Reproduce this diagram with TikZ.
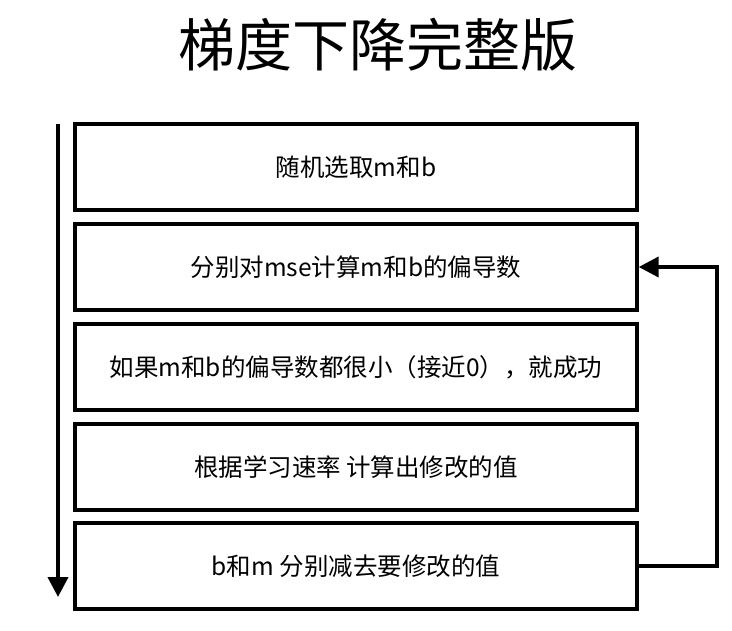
\documentclass[tikz,border=0pt]{standalone}
\usepackage{fontspec}
\setmainfont{Noto Sans CJK SC}
\usetikzlibrary{arrows.meta}
\begin{document}
\begin{tikzpicture}[x=1pt,y=-1pt,
  stepbox/.style={draw,line width=3.4pt,minimum width=562pt,minimum height=86pt,inner sep=0pt,font=\fontsize{24.5}{28}\selectfont},
  conn/.style={line width=4pt,-{Triangle[length=20pt,width=20pt]}}]
\useasboundingbox (0,0) rectangle (732,631);
\node (title) at (378,45) {\fontsize{57}{62}\selectfont 梯度下降完整版};
\node[stepbox] (b1) at (356,167) {随机选取m和b};
\node[stepbox] (b2) at (356,267) {分别对mse计算m和b的偏导数};
\node[stepbox] (b3) at (356,367) {如果m和b的偏导数都很小（接近0），就成功};
\node[stepbox] (b4) at (356,467) {根据学习速率 计算出修改的值};
\node[stepbox] (b5) at (356,566) {b和m 分别减去要修改的值};
\coordinate (s) at (58,124);
\coordinate (e) at (58,597);
\draw[conn] (s) -- (e);
\draw[conn] (b5.east) -- ++(78,0) |- (b2.east);
\end{tikzpicture}
\end{document}
